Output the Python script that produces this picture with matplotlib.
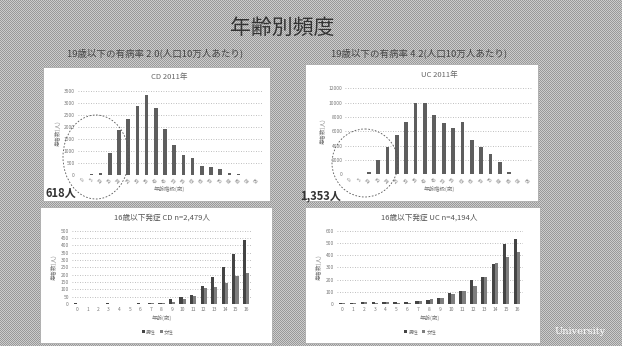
import numpy as np
import matplotlib
matplotlib.use("Agg")
import matplotlib.pyplot as plt
from matplotlib.patches import Rectangle, Ellipse

plt.rcParams['font.family'] = ['Noto Sans CJK JP', 'DejaVu Sans']

# ---- data -------------------------------------------------------------
age_groups = ["0", "5", "10", "15", "20", "25", "30", "35", "40", "45",
              "50", "55", "60", "65", "70", "75", "80", "85", "90", "95"]
cd_2011 = [10, 30, 100, 930, 1875, 2350, 2875, 3330, 2800, 1915,
           1250, 835, 720, 390, 320, 235, 95, 25, 15, 5]
uc_2011 = [0, 0, 380, 2000, 3800, 5500, 7340, 10000, 9900, 8280,
           7120, 6520, 7260, 4800, 3860, 2840, 1760, 380, 60, 10]

onset_ages = [str(a) for a in range(17)]
cd_onset_male = [4, 3, 3, 4, 3, 3, 5, 6, 9, 32, 50, 61, 123, 186, 250, 339, 436]
cd_onset_female = [2, 3, 1, 3, 2, 3, 3, 4, 5, 16, 36, 55, 107, 114, 141, 191, 209]
uc_onset_male = [8, 8, 14, 14, 16, 16, 14, 27, 33, 46, 87, 106, 196, 223, 324, 488, 529]
uc_onset_female = [5, 5, 14, 11, 14, 11, 11, 27, 38, 49, 82, 104, 150, 218, 338, 387, 428]

W, H = 622, 346
fig = plt.figure(figsize=(W / 100, H / 100), dpi=100)

# ---- slide background (halftone grey) ----------------------------------
bg = fig.add_axes([0, 0, 1, 1])
yy, xx = np.mgrid[0:H, 0:W]
tex = np.where((xx + yy) % 2 == 0, 0.60, 0.80)
bg.imshow(tex, cmap="gray", vmin=0, vmax=1, extent=(0, W, H, 0),
          interpolation="nearest", aspect="auto", zorder=0)
bg.set_xlim(0, W)
bg.set_ylim(H, 0)
bg.axis("off")

panels = [(43, 67, 270, 201), (305, 64, 538, 201),
          (40, 207, 272, 343), (305, 207, 540, 343)]
for x0, y0, x1, y1 in panels:
    bg.add_patch(Rectangle((x0, y0), x1 - x0, y1 - y0, facecolor="white",
                           edgecolor="#aaaaaa", lw=0.6, zorder=1))


def px_axes(x0, x1, y_top, y_bot):
    ax = fig.add_axes([x0 / W, 1 - y_bot / H, (x1 - x0) / W, (y_bot - y_top) / H])
    ax.set_facecolor("none")
    return ax


def style(ax, yticks, ymax):
    ax.set_ylim(0, ymax)
    ax.set_yticks(yticks)
    ax.set_yticklabels([str(t) for t in yticks], fontsize=3.5, color="#777777")
    for s in ax.spines.values():
        s.set_visible(False)
    ax.tick_params(length=0, pad=2)
    ax.yaxis.grid(True, linestyle=(0, (1, 2)), color="#aaaaaa", lw=0.6)
    ax.set_axisbelow(True)


# ---- CD 2011 ------------------------------------------------------------
ax1 = px_axes(77.6, 261.6, 91, 175)
x = np.arange(len(age_groups))
ax1.bar(x, cd_2011, width=0.4, color="#5e5e5e")
ax1.set_xlim(-0.5, len(age_groups) - 0.5)
style(ax1, list(range(0, 3501, 500)), 3500)
ax1.set_xticks(x)
ax1.set_xticklabels(age_groups, fontsize=3.3, rotation=45, color="#777777")
ax1.set_title("CD 2011年", fontsize=5.5, color="#666666", pad=9)
ax1.set_ylabel("患者数(人)", fontsize=4, color="#777777", labelpad=2)
ax1.set_xlabel("年齢階級(歳)", fontsize=4, color="#777777", labelpad=1)

# ---- UC 2011 ------------------------------------------------------------
ax2 = px_axes(345.3, 532.7, 88.3, 174.3)
ax2.bar(x, uc_2011, width=0.4, color="#5e5e5e")
ax2.set_xlim(-0.5, len(age_groups) - 0.5)
style(ax2, list(range(0, 12001, 2000)), 12000)
ax2.set_xticks(x)
ax2.set_xticklabels(age_groups, fontsize=3.3, rotation=45, color="#777777")
ax2.set_title("UC 2011年", fontsize=5.5, color="#666666", pad=8)
ax2.set_ylabel("患者数(人)", fontsize=4, color="#777777", labelpad=2)
ax2.set_xlabel("年齢階級(歳)", fontsize=4, color="#777777", labelpad=1)

# ---- onset age, CD ------------------------------------------------------
xo = np.arange(len(onset_ages))
bw = 0.3
ax3 = px_axes(71.7, 251.3, 230.7, 304)
ax3.bar(xo - bw / 2, cd_onset_male, width=bw, color="#444444", label="男性")
ax3.bar(xo + bw / 2, cd_onset_female, width=bw, color="#7e7e7e", label="女性")
ax3.set_xlim(-0.5, len(onset_ages) - 0.5)
style(ax3, list(range(0, 501, 50)), 500)
ax3.set_xticks(xo)
ax3.set_xticklabels(onset_ages, fontsize=3.5, color="#777777")
ax3.set_title("16歳以下発症 CD n=2,479人", fontsize=5.5, color="#555555", pad=8)
ax3.set_ylabel("患者数(人)", fontsize=4, color="#777777", labelpad=3)
ax3.set_xlabel("年齢(歳)", fontsize=4, color="#777777", labelpad=2)
ax3.legend(loc="upper center", bbox_to_anchor=(0.48, -0.28), ncol=2, fontsize=3.5,
           frameon=False, handlelength=0.6, handleheight=0.6, columnspacing=0.8,
           handletextpad=0.3, labelcolor="#777777")

# ---- onset age, UC ------------------------------------------------------
ax4 = px_axes(336.5, 522.5, 230.7, 304)
ax4.bar(xo - bw / 2, uc_onset_male, width=bw, color="#444444", label="男性")
ax4.bar(xo + bw / 2, uc_onset_female, width=bw, color="#7e7e7e", label="女性")
ax4.set_xlim(-0.5, len(onset_ages) - 0.5)
style(ax4, list(range(0, 601, 100)), 600)
ax4.set_xticks(xo)
ax4.set_xticklabels(onset_ages, fontsize=3.5, color="#777777")
ax4.set_title("16歳以下発症 UC n=4,194人", fontsize=5.5, color="#555555", pad=8)
ax4.set_ylabel("患者数(人)", fontsize=4, color="#777777", labelpad=3)
ax4.set_xlabel("年齢(歳)", fontsize=4, color="#777777", labelpad=2)
ax4.legend(loc="upper center", bbox_to_anchor=(0.45, -0.28), ncol=2, fontsize=3.5,
           frameon=False, handlelength=0.6, handleheight=0.6, columnspacing=0.8,
           handletextpad=0.3, labelcolor="#777777")

# ---- overlay: headings, circles, callouts ------------------------------
ov = fig.add_axes([0, 0, 1, 1])
ov.set_xlim(0, W)
ov.set_ylim(H, 0)
ov.axis("off")
ov.patch.set_alpha(0)

ov.text(282, 28, "年齢別頻度", fontsize=15, ha="center", va="center", color="#333333")
ov.text(155, 53, "19歳以下の有病率 2.0(人口10万人あたり)", fontsize=6.8,
        ha="center", va="center", color="#444444")
ov.text(419, 53, "19歳以下の有病率 4.2(人口10万人あたり)", fontsize=6.8,
        ha="center", va="center", color="#444444")

ov.add_patch(Ellipse((96, 157), 66, 84, fill=False, ls=(0, (2, 2)),
                     lw=0.6, edgecolor="#555555"))
ov.add_patch(Ellipse((365, 163), 66, 68, fill=False, ls=(0, (2, 2)),
                     lw=0.6, edgecolor="#555555"))
ov.text(45, 193, "618人", fontsize=8, fontweight="bold", ha="left",
        va="center", color="#333333")
ov.text(300, 196, "1,353人", fontsize=8, fontweight="bold", ha="left",
        va="center", color="#333333")
ov.text(580, 332, "University", fontsize=7, family="DejaVu Serif",
        ha="center", va="center", color="white")

fig.savefig("out.png", dpi=100)
